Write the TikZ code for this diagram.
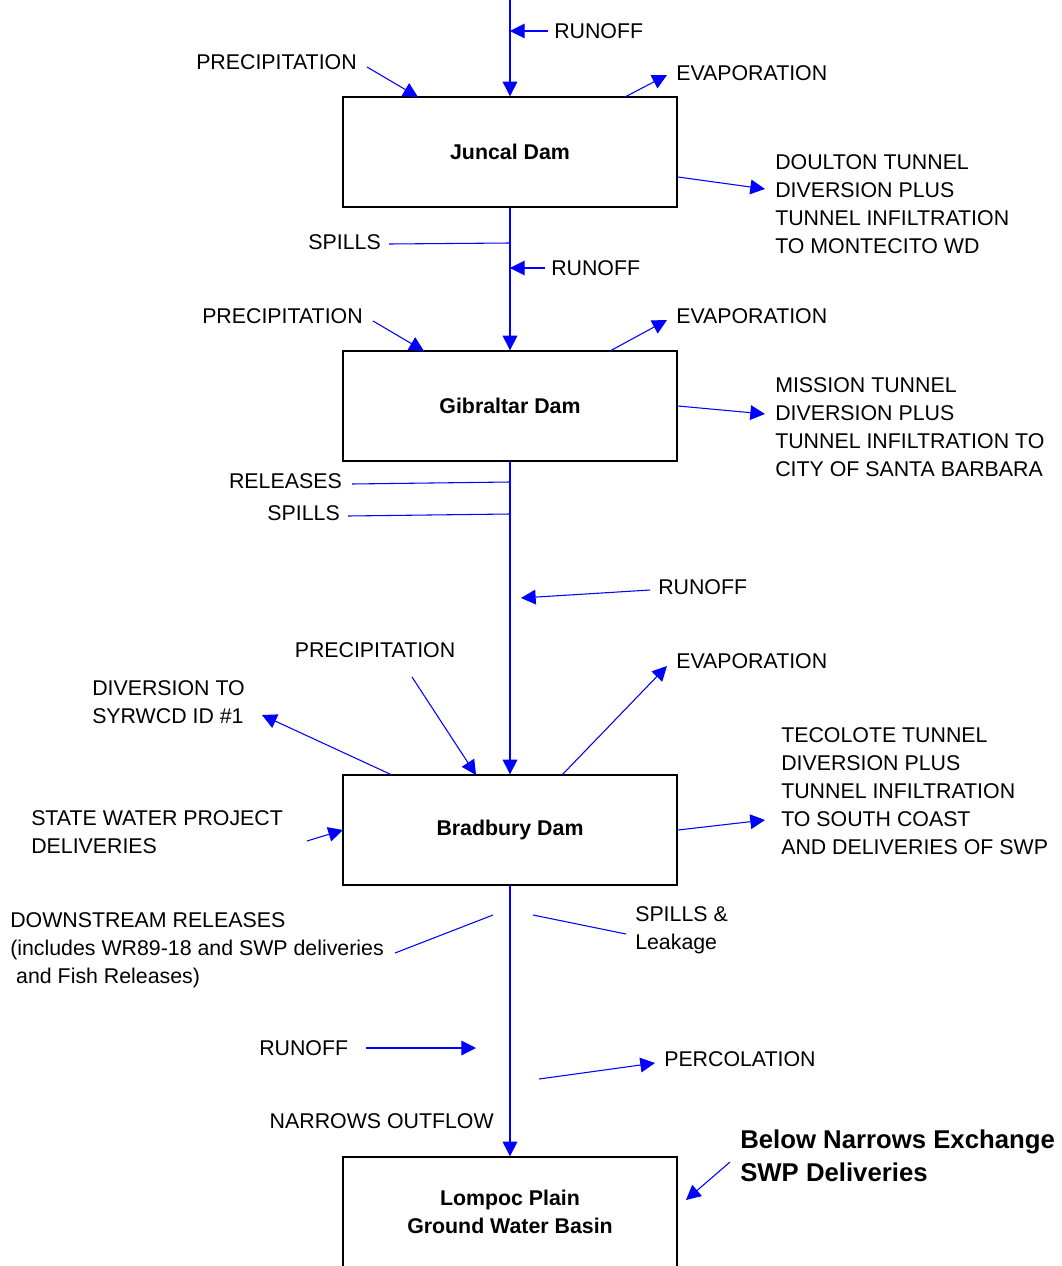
\documentclass[tikz,border=0pt]{standalone}
\usepackage{fontspec}
\setmainfont{Liberation Sans}
\usetikzlibrary{arrows.meta}

\begin{document}
\begin{tikzpicture}[x=0.75pt,y=-0.75pt,
  dam/.style={rectangle,draw=black,line width=1.5pt,minimum width=251pt,minimum height=82pt,
    font=\fontsize{16}{21}\selectfont\bfseries,align=center},
  lbl/.style={inner sep=0pt,anchor=west,align=left,font=\fontsize{16}{21}\selectfont},
  flow/.style={-{Triangle[length=11pt,width=11pt]},blue,line width=0.8pt},
  link/.style={blue,line width=0.8pt}
]
\useasboundingbox (0,0) rectangle (1062,1266);

% reservoirs and basin
\node[dam] (juncal) at (510,152) {Juncal Dam};
\node[dam] (gibraltar) at (510,406) {Gibraltar Dam};
\node[dam] (bradbury) at (510,830) {Bradbury Dam};
\node[dam] (lompoc) at (510,1212) {Lompoc Plain\\Ground Water Basin};

% labels
\node[lbl] (runoffA) at (554,31) {RUNOFF};
\node[lbl] (precA) at (196,62) {PRECIPITATION};
\node[lbl] (evapA) at (676,73) {EVAPORATION};
\node[lbl] (doulton) at (775,204) {DOULTON TUNNEL\\DIVERSION PLUS\\TUNNEL INFILTRATION\\TO MONTECITO WD};
\node[lbl,anchor=east] (spillsA) at (381,242) {SPILLS};
\node[lbl] (runoffB) at (551,268) {RUNOFF};
\node[lbl] (precB) at (202,316) {PRECIPITATION};
\node[lbl] (evapB) at (676,316) {EVAPORATION};
\node[lbl] (mission) at (775,427) {MISSION TUNNEL\\DIVERSION PLUS\\TUNNEL INFILTRATION TO\\CITY OF SANTA BARBARA};
\node[lbl,anchor=east] (releases) at (342,481) {RELEASES};
\node[lbl,anchor=east] (spillsB) at (340,513) {SPILLS};
\node[lbl] (runoffC) at (658,587) {RUNOFF};
\node[lbl,anchor=center] (precC) at (375,650) {PRECIPITATION};
\node[lbl] (evapC) at (676,661) {EVAPORATION};
\node[lbl] (syrwcd) at (92,702) {DIVERSION TO\\SYRWCD ID \#1};
\node[lbl] (swp) at (31,832) {STATE WATER PROJECT\\DELIVERIES};
\node[lbl] (tecolote) at (781,791) {TECOLOTE TUNNEL\\DIVERSION PLUS\\TUNNEL INFILTRATION\\TO SOUTH COAST\\AND DELIVERIES OF SWP};
\node[lbl] (downstream) at (10,950) {DOWNSTREAM RELEASES\\(includes WR89-18 and SWP deliveries\\\hspace*{0.28em}and Fish Releases)};
\node[lbl] (leakage) at (635,930) {SPILLS \&\\Leakage};
\node[lbl] (runoffD) at (259,1048) {RUNOFF};
\node[lbl] (percolation) at (664,1059) {PERCOLATION};
\node[lbl,anchor=east] (narrows) at (494,1121) {NARROWS OUTFLOW};
\node[lbl,font=\fontsize{19.3}{25}\selectfont\bfseries] (exchange) at (740,1156) {Below Narrows Exchange\\SWP Deliveries};

% connector ends
\coordinate (inflow) at (510,0);
\coordinate (runoffA-s) at (548,31);   \coordinate (runoffA-t) at (510,31);
\coordinate (precA-s) at (367,67);     \coordinate (precA-t) at (418,97);
\coordinate (evapA-s) at (625,97);     \coordinate (evapA-t) at (667,75);
\coordinate (doulton-s) at (678,177);  \coordinate (doulton-t) at (765,189);
\coordinate (spillsA-s) at (389,244);  \coordinate (spillsA-t) at (510,243);
\coordinate (runoffB-s) at (545,268);  \coordinate (runoffB-t) at (510,268);
\coordinate (precB-s) at (373,321);    \coordinate (precB-t) at (424,351);
\coordinate (evapB-s) at (610,351);    \coordinate (evapB-t) at (667,320);
\coordinate (mission-s) at (678,406);  \coordinate (mission-t) at (765,414);
\coordinate (releases-s) at (352,484); \coordinate (releases-t) at (510,482);
\coordinate (spillsB-s) at (348,516);  \coordinate (spillsB-t) at (510,514);
\coordinate (runoffC-s) at (650,590);  \coordinate (runoffC-t) at (521,598);
\coordinate (precC-s) at (412,677);    \coordinate (precC-t) at (476,775);
\coordinate (evapC-s) at (562,775);    \coordinate (evapC-t) at (667,666);
\coordinate (syrwcd-s) at (392,775);   \coordinate (syrwcd-t) at (262,715);
\coordinate (swp-s) at (307,841);      \coordinate (swp-t) at (343,830);
\coordinate (tecolote-s) at (678,830); \coordinate (tecolote-t) at (765,820);
\coordinate (downstream-s) at (395,953); \coordinate (downstream-t) at (493,915);
\coordinate (leakage-s) at (626,934);  \coordinate (leakage-t) at (533,915);
\coordinate (runoffD-s) at (366,1048); \coordinate (runoffD-t) at (476,1048);
\coordinate (perc-s) at (539,1079);    \coordinate (perc-t) at (655,1063);
\coordinate (exchange-s) at (730,1162); \coordinate (exchange-t) at (686,1200);

% main stream
\draw[flow] (inflow) -- (juncal);
\draw[flow] (juncal) -- (gibraltar);
\draw[flow] (gibraltar) -- (bradbury);
\draw[flow] (bradbury) -- (lompoc);

% Juncal
\draw[flow] (runoffA-s) -- (runoffA-t);
\draw[flow] (precA-s) -- (precA-t);
\draw[flow] (evapA-s) -- (evapA-t);
\draw[flow] (doulton-s) -- (doulton-t);
\draw[link] (spillsA-s) -- (spillsA-t);

% Gibraltar
\draw[flow] (runoffB-s) -- (runoffB-t);
\draw[flow] (precB-s) -- (precB-t);
\draw[flow] (evapB-s) -- (evapB-t);
\draw[flow] (mission-s) -- (mission-t);
\draw[link] (releases-s) -- (releases-t);
\draw[link] (spillsB-s) -- (spillsB-t);

% Bradbury
\draw[flow] (runoffC-s) -- (runoffC-t);
\draw[flow] (precC-s) -- (precC-t);
\draw[flow] (evapC-s) -- (evapC-t);
\draw[flow] (syrwcd-s) -- (syrwcd-t);
\draw[flow] (swp-s) -- (swp-t);
\draw[flow] (tecolote-s) -- (tecolote-t);
\draw[link] (downstream-s) -- (downstream-t);
\draw[link] (leakage-s) -- (leakage-t);

% below Bradbury
\draw[flow] (runoffD-s) -- (runoffD-t);
\draw[flow] (perc-s) -- (perc-t);
\draw[flow] (exchange-s) -- (exchange-t);
\end{tikzpicture}
\end{document}
